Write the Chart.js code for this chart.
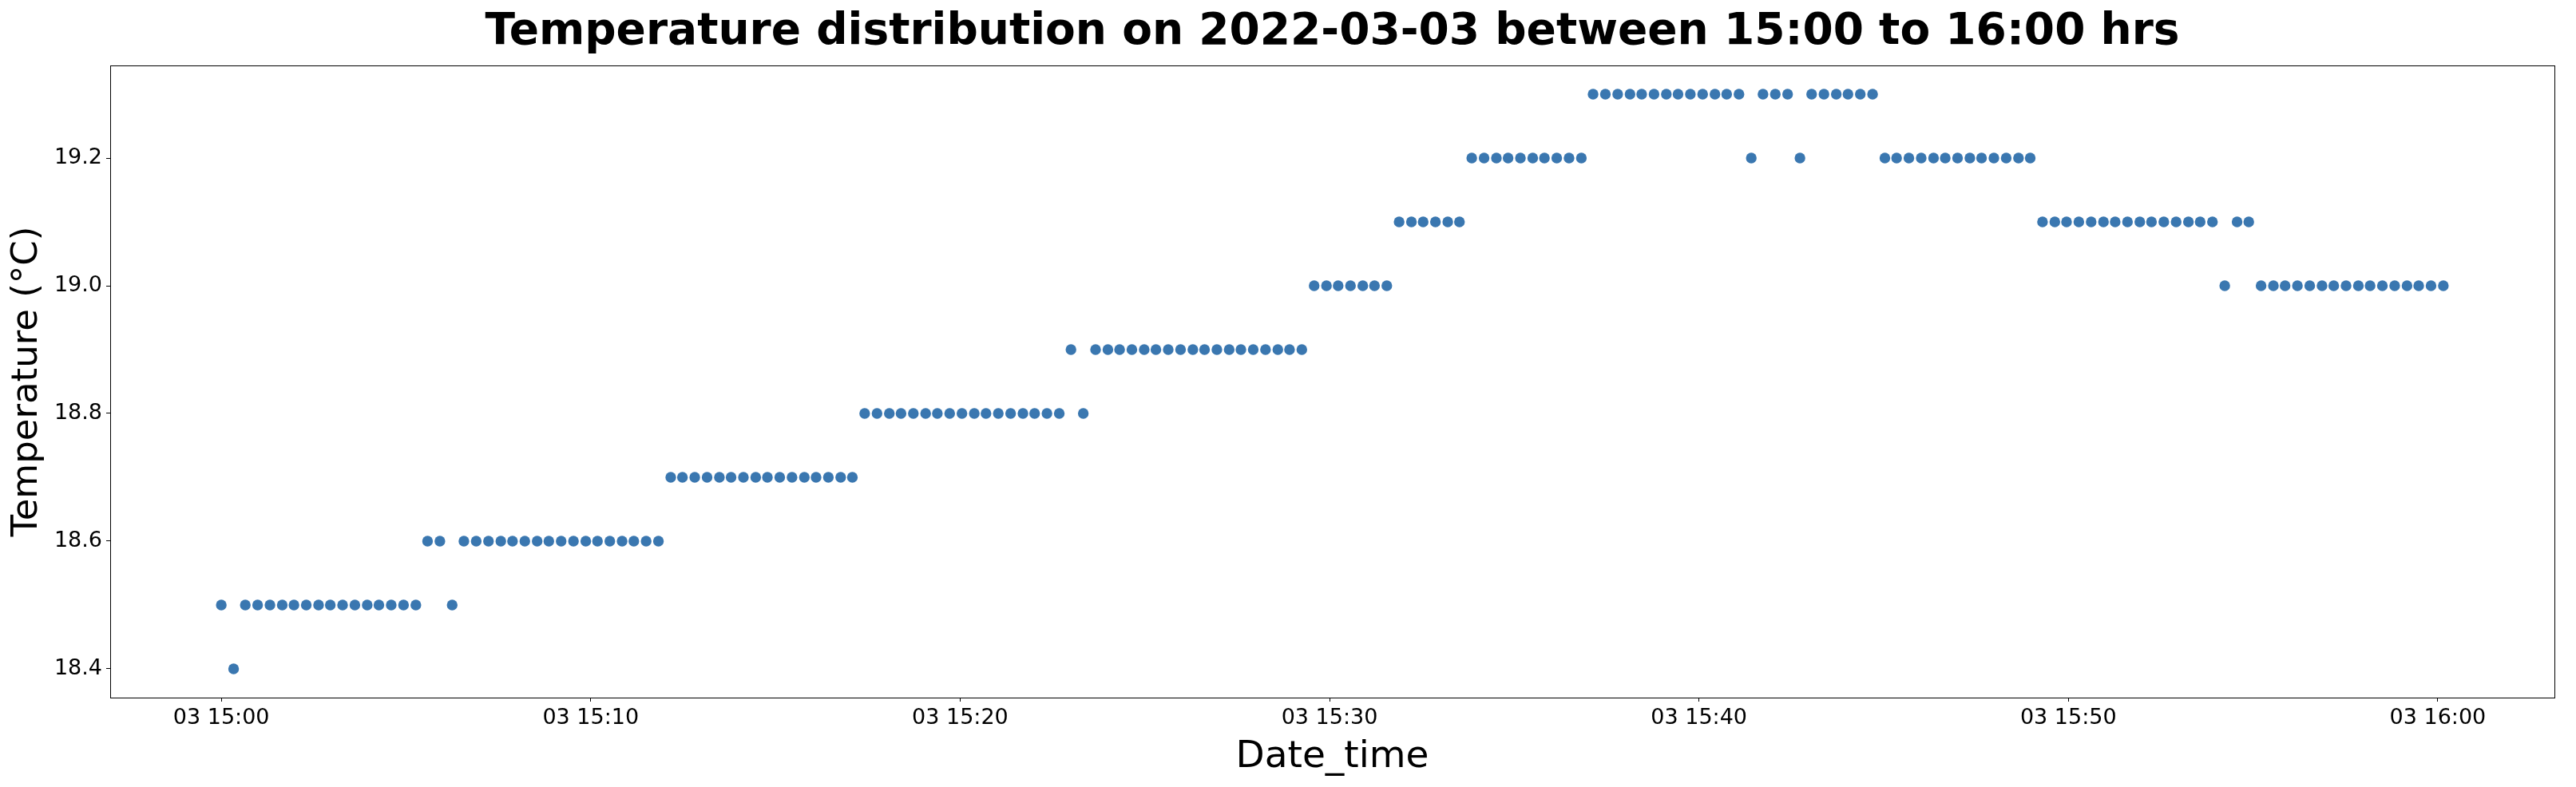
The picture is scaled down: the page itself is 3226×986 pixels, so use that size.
<!DOCTYPE html>
<html>
<head>
<meta charset="utf-8">
<script src="https://cdn.jsdelivr.net/npm/chart.js@4/dist/chart.umd.min.js"></script>
<style>
  html, body { margin: 0; padding: 0; background: #fff; }
  #wrap { width: 3226px; height: 986px; }
</style>
</head>
<body>
<div id="wrap"><canvas id="tempChart" width="3226" height="986"></canvas></div>
<script>
// readings taken on 2022-03-03, one every ~20 s
const times = [
  "15:00:00","15:00:20","15:00:39","15:00:59","15:01:19","15:01:39","15:01:58","15:02:18","15:02:38","15:02:57",
  "15:03:17","15:03:37","15:03:57","15:04:16","15:04:36","15:04:56","15:05:16","15:05:35","15:05:55","15:06:15",
  "15:06:34","15:06:54","15:07:14","15:07:34","15:07:53","15:08:13","15:08:33","15:08:52","15:09:12","15:09:32",
  "15:09:52","15:10:11","15:10:31","15:10:51","15:11:10","15:11:30","15:11:50","15:12:10","15:12:29","15:12:49",
  "15:13:09","15:13:29","15:13:48","15:14:08","15:14:28","15:14:47","15:15:07","15:15:27","15:15:47","15:16:06",
  "15:16:26","15:16:46","15:17:05","15:17:25","15:17:45","15:18:05","15:18:24","15:18:44","15:19:04","15:19:23",
  "15:19:43","15:20:03","15:20:23","15:20:42","15:21:02","15:21:22","15:21:42","15:22:01","15:22:21","15:22:41",
  "15:23:00","15:23:20","15:23:40","15:24:00","15:24:19","15:24:39","15:24:59","15:25:18","15:25:38","15:25:58",
  "15:26:18","15:26:37","15:26:57","15:27:17","15:27:36","15:27:56","15:28:16","15:28:36","15:28:55","15:29:15",
  "15:29:35","15:29:55","15:30:14","15:30:34","15:30:54","15:31:13","15:31:33","15:31:53","15:32:13","15:32:32",
  "15:32:52","15:33:12","15:33:31","15:33:51","15:34:11","15:34:31","15:34:50","15:35:10","15:35:30","15:35:49",
  "15:36:09","15:36:29","15:36:49","15:37:08","15:37:28","15:37:48","15:38:08","15:38:27","15:38:47","15:39:07",
  "15:39:26","15:39:46","15:40:06","15:40:26","15:40:45","15:41:05","15:41:25","15:41:44","15:42:04","15:42:24",
  "15:42:44","15:43:03","15:43:23","15:43:43","15:44:02","15:44:22","15:44:42","15:45:02","15:45:21","15:45:41",
  "15:46:01","15:46:21","15:46:40","15:47:00","15:47:20","15:47:39","15:47:59","15:48:19","15:48:39","15:48:58",
  "15:49:18","15:49:38","15:49:57","15:50:17","15:50:37","15:50:57","15:51:16","15:51:36","15:51:56","15:52:15",
  "15:52:35","15:52:55","15:53:15","15:53:34","15:53:54","15:54:14","15:54:34","15:54:53","15:55:13","15:55:33",
  "15:55:52","15:56:12","15:56:32","15:56:52","15:57:11","15:57:31","15:57:51","15:58:10","15:58:30","15:58:50",
  "15:59:10","15:59:29","15:59:49","16:00:09"
];

const temps = [
  18.5, 18.4,
  18.5, 18.5, 18.5, 18.5, 18.5, 18.5, 18.5, 18.5, 18.5, 18.5, 18.5, 18.5, 18.5, 18.5, 18.5,
  18.6, 18.6, 18.5,
  18.6, 18.6, 18.6, 18.6, 18.6, 18.6, 18.6, 18.6, 18.6, 18.6, 18.6, 18.6, 18.6, 18.6, 18.6, 18.6, 18.6,
  18.7, 18.7, 18.7, 18.7, 18.7, 18.7, 18.7, 18.7, 18.7, 18.7, 18.7, 18.7, 18.7, 18.7, 18.7, 18.7,
  18.8, 18.8, 18.8, 18.8, 18.8, 18.8, 18.8, 18.8, 18.8, 18.8, 18.8, 18.8, 18.8, 18.8, 18.8, 18.8, 18.8,
  18.9, 18.8,
  18.9, 18.9, 18.9, 18.9, 18.9, 18.9, 18.9, 18.9, 18.9, 18.9, 18.9, 18.9, 18.9, 18.9, 18.9, 18.9, 18.9, 18.9,
  19.0, 19.0, 19.0, 19.0, 19.0, 19.0, 19.0,
  19.1, 19.1, 19.1, 19.1, 19.1, 19.1,
  19.2, 19.2, 19.2, 19.2, 19.2, 19.2, 19.2, 19.2, 19.2, 19.2,
  19.3, 19.3, 19.3, 19.3, 19.3, 19.3, 19.3, 19.3, 19.3, 19.3, 19.3, 19.3, 19.3,
  19.2, 19.3, 19.3, 19.3, 19.2,
  19.3, 19.3, 19.3, 19.3, 19.3, 19.3,
  19.2, 19.2, 19.2, 19.2, 19.2, 19.2, 19.2, 19.2, 19.2, 19.2, 19.2, 19.2, 19.2,
  19.1, 19.1, 19.1, 19.1, 19.1, 19.1, 19.1, 19.1, 19.1, 19.1, 19.1, 19.1, 19.1, 19.1, 19.1,
  19.0, 19.1, 19.1,
  19.0, 19.0, 19.0, 19.0, 19.0, 19.0, 19.0, 19.0, 19.0, 19.0, 19.0, 19.0, 19.0, 19.0, 19.0, 19.0
];

const xTickTimes = ["15:00", "15:10", "15:20", "15:30", "15:40", "15:50", "16:00"];
const xTickLabels = ["03 15:00", "03 15:10", "03 15:20", "03 15:30", "03 15:40", "03 15:50", "03 16:00"];
const yTicks = [18.4, 18.6, 18.8, 19.0, 19.2];

const TITLE = "Temperature distribution on 2022-03-03 between 15:00 to 16:00 hrs";
const FONT = "'DejaVu Sans', 'Liberation Sans', sans-serif";
const DOT = "#3a77b0";

if (times.length !== temps.length) console.warn("times/temps length mismatch", times.length, temps.length);

// seconds after 15:00:00
function toSec(s) {
  const p = s.split(":").map(Number);
  return (p[0] - 15) * 3600 + p[1] * 60 + (p[2] || 0);
}

const points = times.map((t, i) => ({ x: toSec(t), y: temps[i] }));
const xTickVals = xTickTimes.map(toSec);

// matplotlib style 5% margins
const xs = points.map(p => p.x), ys = points.map(p => p.y);
const xLo = Math.min(...xs), xHi = Math.max(...xs);
const yLo = Math.min(...ys), yHi = Math.max(...ys);
const xPad = (xHi - xLo) * 0.05, yPad = (yHi - yLo) * 0.05;

const frame = {
  id: "frame",
  afterDraw(chart) {
    const { ctx, chartArea: a } = chart;
    ctx.save();
    ctx.strokeStyle = "#000";
    ctx.lineWidth = 1;
    ctx.strokeRect(Math.round(a.left) + 0.5, Math.round(a.top) + 0.5, Math.round(a.right - a.left), Math.round(a.bottom - a.top));
    ctx.restore();
  }
};

new Chart(document.getElementById("tempChart").getContext("2d"), {
  type: "scatter",
  data: {
    datasets: [{
      data: points,
      backgroundColor: DOT,
      borderWidth: 0,
      pointRadius: 6.7,
      pointHoverRadius: 6.7
    }]
  },
  options: {
    responsive: false,
    animation: false,
    devicePixelRatio: 1,
    layout: { padding: { left: 0, right: 27, top: 0, bottom: 0 } },
    plugins: {
      legend: { display: false },
      tooltip: { enabled: false },
      title: {
        display: true,
        text: TITLE,
        fullSize: false,
        color: "#000",
        font: { family: FONT, size: 55, weight: "bold", lineHeight: 1.2 },
        padding: { top: 8, bottom: 8 }
      }
    },
    scales: {
      x: {
        type: "linear",
        min: xLo - xPad,
        max: xHi + xPad,
        afterBuildTicks: s => { s.ticks = xTickVals.map(v => ({ value: v })); },
        afterFit: s => { s.height = 112; },
        ticks: {
          autoSkip: false,
          maxRotation: 0,
          padding: 5,
          color: "#000",
          font: { family: FONT, size: 27 },
          callback: (v, i) => xTickLabels[i]
        },
        grid: { drawOnChartArea: false, drawTicks: true, tickLength: 5, color: "#000", tickWidth: 1 },
        border: { display: true, color: "#000", width: 1 },
        title: {
          display: true,
          text: "Date_time",
          color: "#000",
          font: { family: FONT, size: 47, lineHeight: 1.2 },
          padding: { top: 0, bottom: 9 }
        }
      },
      y: {
        type: "linear",
        min: yLo - yPad,
        max: yHi + yPad,
        afterBuildTicks: s => { s.ticks = yTicks.map(v => ({ value: v })); },
        afterFit: s => { s.width = 138; },
        ticks: {
          padding: 5,
          color: "#000",
          font: { family: FONT, size: 27 },
          callback: v => Number(v).toFixed(1)
        },
        grid: { drawOnChartArea: false, drawTicks: true, tickLength: 5, color: "#000", tickWidth: 1 },
        border: { display: true, color: "#000", width: 1 },
        title: {
          display: true,
          text: "Temperature (°C)",
          color: "#000",
          font: { family: FONT, size: 45, lineHeight: 1.2 },
          padding: { top: 7, bottom: 0 }
        }
      }
    }
  },
  plugins: [frame]
});
</script>
</body>
</html>
